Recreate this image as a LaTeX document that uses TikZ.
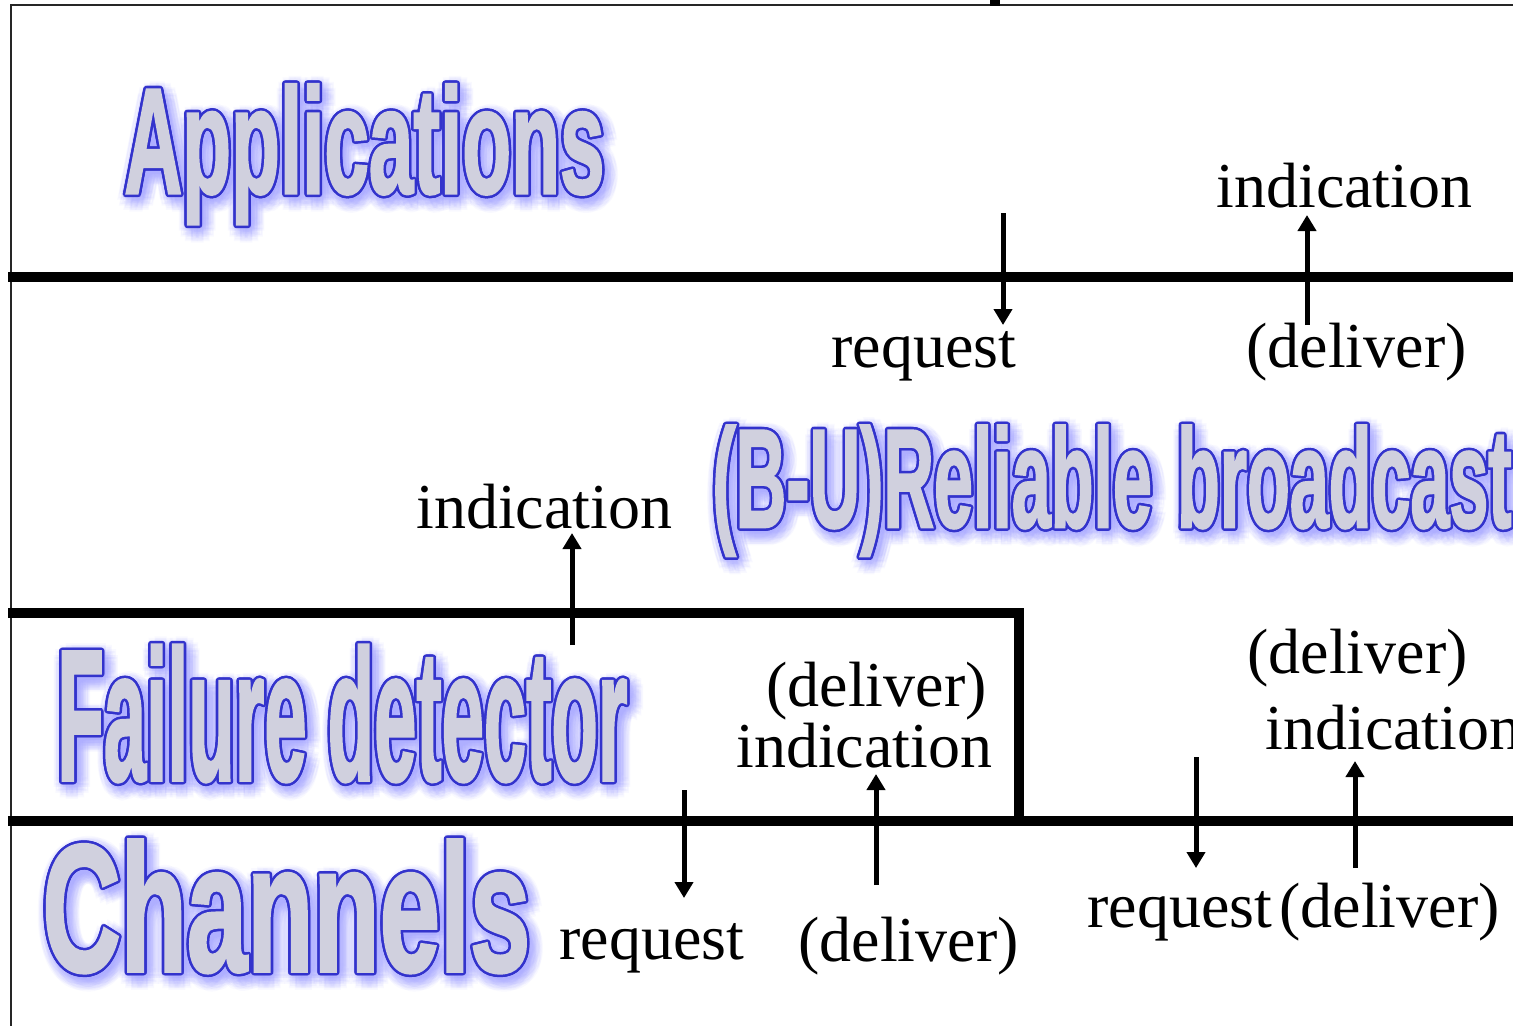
\documentclass[tikz,border=0pt]{standalone}
\usepackage{fontspec}
\usepackage{graphicx}
\usetikzlibrary{arrows.meta}
\newfontfamily\labfont{Liberation Serif}
\newfontfamily\wafont{Liberation Sans}[BoldFeatures={FakeBold=2}]
\definecolor{waFill}{RGB}{208,208,222}
\definecolor{waLine}{RGB}{51,51,204}
\definecolor{waGlow}{RGB}{175,175,255}

\tikzset{
 rule/.style={line width=5pt, line cap=butt, line join=miter},
 frameline/.style={line width=1pt, black!85},
 sig/.style={line width=2.5pt, -{Triangle[width=9pt,length=8pt]}},
 lbl/.style={font=\labfont\fontsize{32}{36}\selectfont, inner sep=0pt, anchor=base west},
 wa/.style={inner sep=0pt, anchor=base west},
}

\newcommand\wordart[5]{%
 \foreach \r in {3,6,9,12}{\foreach \a in {0,30,...,330}{
   \node[wa, text=waGlow, opacity=0.07, shift={(4,5)}, shift={(\a:\r)}] (#1-g-\r-\a) at (#2)
     {\scalebox{#3}[#4]{\wafont\bfseries\fontsize{100}{100}\selectfont #5}};}}
 \foreach \a in {0,22.5,...,337.5}{
   \node[wa, text=waLine, shift={(\a:2.5)}] (#1-o-\a) at (#2)
     {\scalebox{#3}[#4]{\wafont\bfseries\fontsize{100}{100}\selectfont #5}};}
 \node[wa, text=waFill] (#1) at (#2)
     {\scalebox{#3}[#4]{\wafont\bfseries\fontsize{100}{100}\selectfont #5}};
}

\begin{document}
\begin{tikzpicture}[x=0.5pt,y=-0.5pt]
\useasboundingbox (0,0) rectangle (1513,1025);
\clip (0,0) rectangle (1513,1025);
\fill[white] (0,0) rectangle (1513,1025);

% outer frame
\draw[frameline] (11,1030) -- (11,5) -- (1520,5);
\fill[black] (990,0) rectangle (1000,6);

% big layer titles
\coordinate (pA) at (124,193);
\coordinate (pB) at (712,527);
\coordinate (pF) at (57,780);
\coordinate (pC) at (42,971);
\wordart{apps}{pA}{0.40}{0.75}{Applications}
\wordart{rb}{pB}{0.350}{0.70}{(B-U)Reliable\hspace{0.36em}broadcast}
\wordart{fd}{pF}{0.380}{0.93}{Failure detector}
\wordart{ch}{pC}{0.542}{0.905}{Channels}

% layer boundaries
\draw[rule] (8,277) -- (1520,277);
\draw[rule] (8,613) -- (1019,613) -- (1019,821);
\draw[rule] (8,821) -- (1520,821);

% labels
\node[lbl] (l1) at (1216,207) {indication};
\node[lbl] (l2) at (831,367) {request};
\node[lbl] (l3) at (1246,367) {(deliver)};
\node[lbl] (l4) at (416,528) {indication};
\node[lbl] (l5) at (766,706) {(deliver)};
\node[lbl] (l6) at (736,767) {indication};
\node[lbl] (l7) at (1247,673) {(deliver)};
\node[lbl] (l8) at (1265,749) {indication};
\node[lbl] (l9) at (559,959) {request};
\node[lbl] (l10) at (798,961) {(deliver)};
\node[lbl] (l11) at (1087,927) {request};
\node[lbl] (l12) at (1279,927) {(deliver)};

% arrows
\coordinate (a1s) at (1003,213); \coordinate (a1e) at (1003,325);
\coordinate (a2s) at (1307,325); \coordinate (a2e) at (1307,215);
\coordinate (a3s) at (572,645);  \coordinate (a3e) at (572,533);
\coordinate (a4s) at (684,790);  \coordinate (a4e) at (684,898);
\coordinate (a5s) at (876,885);  \coordinate (a5e) at (876,774);
\coordinate (a6s) at (1196,757); \coordinate (a6e) at (1196,868);
\coordinate (a7s) at (1355,868); \coordinate (a7e) at (1355,761);
\draw[sig] (a1s) -- (a1e);
\draw[sig] (a2s) -- (a2e);
\draw[sig] (a3s) -- (a3e);
\draw[sig] (a4s) -- (a4e);
\draw[sig] (a5s) -- (a5e);
\draw[sig] (a6s) -- (a6e);
\draw[sig] (a7s) -- (a7e);
\end{tikzpicture}
\end{document}
